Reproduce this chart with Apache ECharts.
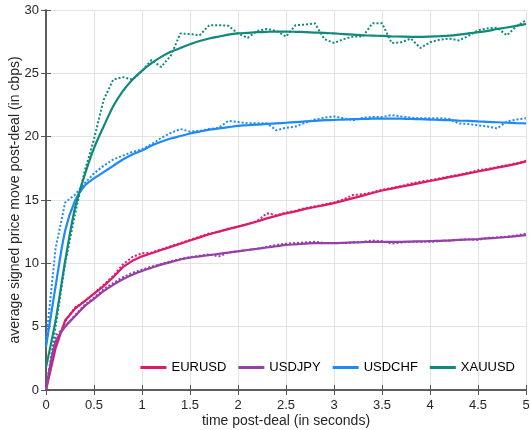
<!DOCTYPE html>
<html>
<head>
<meta charset="utf-8">
<script src="https://cdn.jsdelivr.net/npm/echarts@6/dist/echarts.min.js"></script>
<style>
  html, body { margin: 0; padding: 0; background: #fff; }
  #main { width: 530px; height: 430px; }
</style>
</head>
<body>
<div id="main"></div>
<script>
const time = [0, 0.1, 0.2, 0.3, 0.4, 0.5, 0.6, 0.7, 0.8, 0.9,
  1, 1.1, 1.2, 1.3, 1.4, 1.5, 1.6, 1.7, 1.8, 1.9,
  2, 2.1, 2.2, 2.3, 2.4, 2.5, 2.6, 2.7, 2.8, 2.9,
  3, 3.1, 3.2, 3.3, 3.4, 3.5, 3.6, 3.7, 3.8, 3.9,
  4, 4.1, 4.2, 4.3, 4.4, 4.5, 4.6, 4.7, 4.8, 4.9, 5];

// fitted curves (solid)
const eurusdFit = [0, 3.3, 5.5, 6.4, 7.0, 7.6, 8.2, 8.9, 9.7, 10.2,
  10.55, 10.8, 11.05, 11.3, 11.55, 11.8, 12.05, 12.3, 12.5, 12.7,
  12.9, 13.1, 13.3, 13.55, 13.75, 13.95, 14.1, 14.3, 14.45, 14.6,
  14.75, 14.95, 15.15, 15.35, 15.55, 15.75, 15.9, 16.05, 16.2, 16.35,
  16.5, 16.65, 16.8, 16.95, 17.1, 17.25, 17.4, 17.55, 17.7, 17.85, 18.05];
const usdjpyFit = [0, 3.8, 5.0, 5.8, 6.6, 7.2, 7.8, 8.3, 8.75, 9.1,
  9.4, 9.65, 9.9, 10.1, 10.3, 10.45, 10.55, 10.65, 10.75, 10.85,
  10.95, 11.05, 11.15, 11.25, 11.35, 11.45, 11.5, 11.55, 11.6, 11.6,
  11.6, 11.62, 11.65, 11.67, 11.7, 11.7, 11.7, 11.7, 11.72, 11.74,
  11.75, 11.78, 11.8, 11.85, 11.88, 11.92, 11.97, 12.02, 12.08, 12.15, 12.22];
const usdchfFit = [3.4, 8.2, 12.6, 14.9, 16.1, 16.7, 17.2, 17.7, 18.2, 18.6,
  18.9, 19.3, 19.6, 19.85, 20.05, 20.25, 20.4, 20.55, 20.65, 20.75,
  20.85, 20.9, 20.95, 21.0, 21.05, 21.1, 21.15, 21.2, 21.25, 21.3,
  21.32, 21.35, 21.38, 21.4, 21.42, 21.43, 21.43, 21.42, 21.4, 21.38,
  21.35, 21.32, 21.3, 21.27, 21.24, 21.2, 21.17, 21.14, 21.1, 21.07, 21.05];
const xauusdFit = [1.8, 5.5, 10.2, 14.3, 16.9, 19.1, 20.8, 22.4, 23.6, 24.5,
  25.2, 25.8, 26.3, 26.7, 27.0, 27.3, 27.55, 27.75, 27.9, 28.05,
  28.15, 28.2, 28.25, 28.28, 28.3, 28.3, 28.28, 28.25, 28.22, 28.2,
  28.15, 28.1, 28.05, 28.0, 27.98, 27.95, 27.92, 27.9, 27.88, 27.88,
  27.9, 27.93, 27.97, 28.05, 28.15, 28.25, 28.35, 28.5, 28.62, 28.75, 28.9];

// observed averages (dotted)
const eurusdObs = [0, 3.6, 5.4, 6.5, 7.0, 7.6, 8.3, 9.0, 9.9, 10.5,
  10.8, 10.85, 11.1, 11.35, 11.6, 11.85, 12.1, 12.35, 12.5, 12.75,
  12.9, 13.1, 13.35, 13.95, 13.8, 14.0, 14.15, 14.35, 14.5, 14.65,
  14.8, 15.05, 15.4, 15.45, 15.6, 15.8, 15.95, 16.1, 16.3, 16.45,
  16.55, 16.7, 16.85, 17.0, 17.15, 17.35, 17.45, 17.6, 17.75, 17.9, 18.1];
const usdjpyObs = [0, 4.3, 5.0, 5.9, 6.7, 7.3, 7.95, 8.45, 8.9, 9.25,
  9.5, 9.75, 9.95, 10.15, 10.35, 10.5, 10.6, 10.7, 10.55, 10.85,
  10.95, 11.05, 11.15, 11.3, 11.45, 11.55, 11.6, 11.65, 11.7, 11.6,
  11.6, 11.6, 11.65, 11.7, 11.8, 11.75, 11.55, 11.65, 11.7, 11.7,
  11.7, 11.75, 11.8, 11.85, 11.9, 11.85, 12.0, 12.05, 12.1, 12.2, 12.35];
const usdchfObs = [3.8, 11.2, 14.8, 15.4, 16.3, 17.1, 17.7, 18.2, 18.5, 18.8,
  19.0, 19.4, 19.9, 20.3, 20.6, 20.4, 20.45, 20.6, 20.7, 21.25,
  21.15, 21.05, 21.05, 21.05, 20.5, 20.7, 20.8, 21.1, 21.35, 21.5,
  21.6, 21.45, 21.3, 21.5, 21.55, 21.55, 21.7, 21.6, 21.5, 21.45,
  21.45, 21.45, 21.4, 21.05, 21.0, 20.9, 20.8, 20.65, 21.2, 21.35, 21.45];
const xauusdObs = [0, 5.0, 10.0, 13.8, 17.2, 19.8, 22.9, 24.5, 24.7, 24.5,
  25.2, 26.05, 25.5, 26.4, 28.15, 28.1, 28.0, 28.8, 28.8, 28.75,
  28.15, 27.8, 28.35, 28.5, 28.35, 27.9, 28.8, 28.85, 28.95, 27.7,
  27.4, 27.7, 27.9, 27.9, 28.95, 28.95, 27.4, 27.45, 27.75, 27.0,
  27.45, 27.65, 27.75, 27.6, 27.95, 28.4, 28.55, 28.6, 28.0, 28.7, 29.2];

const names = ['EURUSD', 'USDJPY', 'USDCHF', 'XAUUSD'];
const colors = ['#dc1a6b', '#9440a6', '#1e8af5', '#10897c'];
const smoothing = [false, 0.3, 0.3, 0.3];

function pairs(vals) {
  return time.map((t, i) => [t, vals[i]]);
}

const chart = echarts.init(document.getElementById('main'));
const fits = [eurusdFit, usdjpyFit, usdchfFit, xauusdFit];
const obs = [eurusdObs, usdjpyObs, usdchfObs, xauusdObs];

let series = [];
names.forEach((n, k) => {
  series.push({
    name: n + ' obs',
    type: 'line',
    data: pairs(obs[k]),
    showSymbol: false,
    lineStyle: {color: colors[k], width: 2, type: [2, 2]},
    itemStyle: {color: colors[k]},
    z: 2
  });
});
names.forEach((n, k) => {
  series.push({
    name: n,
    type: 'line',
    data: pairs(fits[k]),
    showSymbol: false,
    smooth: smoothing[k],
    lineStyle: {color: colors[k], width: 2.2},
    itemStyle: {color: colors[k]},
    z: 3
  });
});

const axisFont = {fontFamily: 'Liberation Sans', fontSize: 13, color: '#262626'};

let option = {
  animation: false,
  grid: {left: 46, right: 4, top: 10, bottom: 40, outerBoundsMode: 'none', containLabel: false},
  legend: {
    data: names,
    right: 10,
    bottom: 51,
    icon: 'rect',
    itemWidth: 26,
    itemHeight: 3,
    itemGap: 12,
    textStyle: {fontFamily: 'Liberation Sans', fontSize: 13, color: '#000'}
  },
  xAxis: [
    {
      type: 'value', min: 0, max: 5, interval: 0.5,
      name: 'time post-deal (in seconds)',
      nameLocation: 'middle', nameGap: 24, nameMoveOverlap: false,
      nameTextStyle: {fontFamily: 'Liberation Sans', fontSize: 14, color: '#262626'},
      axisLine: {show: true, lineStyle: {color: '#555', width: 1.5}},
      axisTick: {show: true, inside: true, length: 5, lineStyle: {color: '#555'}},
      axisLabel: Object.assign({margin: 9}, axisFont),
      splitLine: {show: true, lineStyle: {color: '#e3e3e3', width: 1}}
    },
    {
      type: 'value', min: 0, max: 5, interval: 0.5, position: 'top',
      axisLine: {show: true, lineStyle: {color: '#555', width: 1.5}},
      axisTick: {show: true, inside: true, length: 5, lineStyle: {color: '#555'}},
      axisLabel: {show: false},
      splitLine: {show: false}
    }
  ],
  yAxis: [
    {
      type: 'value', min: 0, max: 30, interval: 5,
      name: 'average signed price move post-deal (in cbps)',
      nameLocation: 'middle', nameGap: 24, nameMoveOverlap: false,
      nameTextStyle: {fontFamily: 'Liberation Sans', fontSize: 14, color: '#262626'},
      axisLine: {show: true, lineStyle: {color: '#555', width: 1.5}},
      axisTick: {show: true, inside: true, length: 5, lineStyle: {color: '#555'}},
      axisLabel: Object.assign({margin: 7}, axisFont),
      splitLine: {show: true, lineStyle: {color: '#e3e3e3', width: 1}}
    },
    {
      type: 'value', min: 0, max: 30, interval: 5, position: 'right',
      axisLine: {show: true, lineStyle: {color: '#555', width: 1.5}},
      axisTick: {show: true, inside: true, length: 5, lineStyle: {color: '#555'}},
      axisLabel: {show: false},
      splitLine: {show: false}
    }
  ],
  series: series
};
chart.setOption(option);
</script>
</body>
</html>
